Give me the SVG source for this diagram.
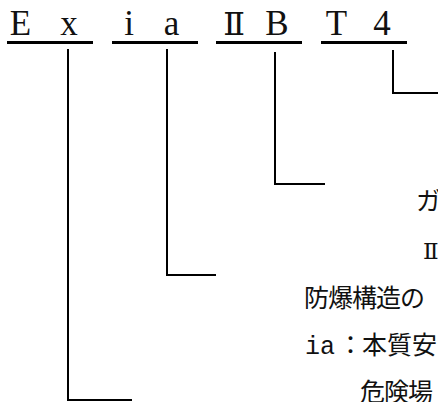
<svg xmlns="http://www.w3.org/2000/svg" width="438" height="402" viewBox="0 0 438 402">
<style>
.code{font-family:"Liberation Serif","DejaVu Serif","Noto Sans CJK JP",serif;font-size:35px;fill:#111;text-anchor:middle}
.rn{font-family:"DejaVu Serif","Liberation Serif","Noto Sans CJK JP",serif;fill:#111}
.desc{font-family:"Liberation Mono","Noto Sans CJK JP",monospace;font-size:25px;fill:#111}
.ul{fill:#000}
.conn{fill:none;stroke:#000;stroke-width:2}
</style>
<rect width="438" height="402" fill="#fff"/>
<g id="code-ex">
<text class="code" x="20.5" y="35">E</text>
<text class="code" x="69" y="35">x</text>
<rect class="ul" x="7" y="41" width="86" height="3"/>
</g>
<g id="code-ia">
<text class="code" x="129" y="35">i</text>
<text class="code" x="171.5" y="35">a</text>
<rect class="ul" x="112" y="41" width="86" height="3"/>
</g>
<g id="code-iib">
<text class="rn" x="234" y="35" font-size="32" text-anchor="middle">Ⅱ</text>
<text class="code" x="277" y="35">B</text>
<rect class="ul" x="216" y="41" width="86" height="3"/>
</g>
<g id="code-t4">
<text class="code" x="336.5" y="35">T</text>
<text class="code" x="382" y="35">4</text>
<rect class="ul" x="321" y="41" width="86" height="3"/>
</g>
<g id="connectors">
<path class="conn" d="M68 49V400H132"/>
<path class="conn" d="M167 49V275H216"/>
<path class="conn" d="M275 52V184H325"/>
<path class="conn" d="M393 50V93H438"/>
</g>
<g id="desc-gas">
<text class="desc" x="416" y="210">ガ</text>
</g>
<g id="desc-iib">
<text class="rn" x="423" y="259" font-size="23">Ⅱ</text>
</g>
<g id="desc-structure">
<text class="desc" x="304 328 352 376 400" y="307">防爆構造の</text>
</g>
<g id="desc-ia">
<text class="desc" x="305 320 338 362 387 412" y="354">ia：本質安</text>
</g>
<g id="desc-danger">
<text class="desc" x="360 384 408" y="401">危険場</text>
</g>
</svg>
